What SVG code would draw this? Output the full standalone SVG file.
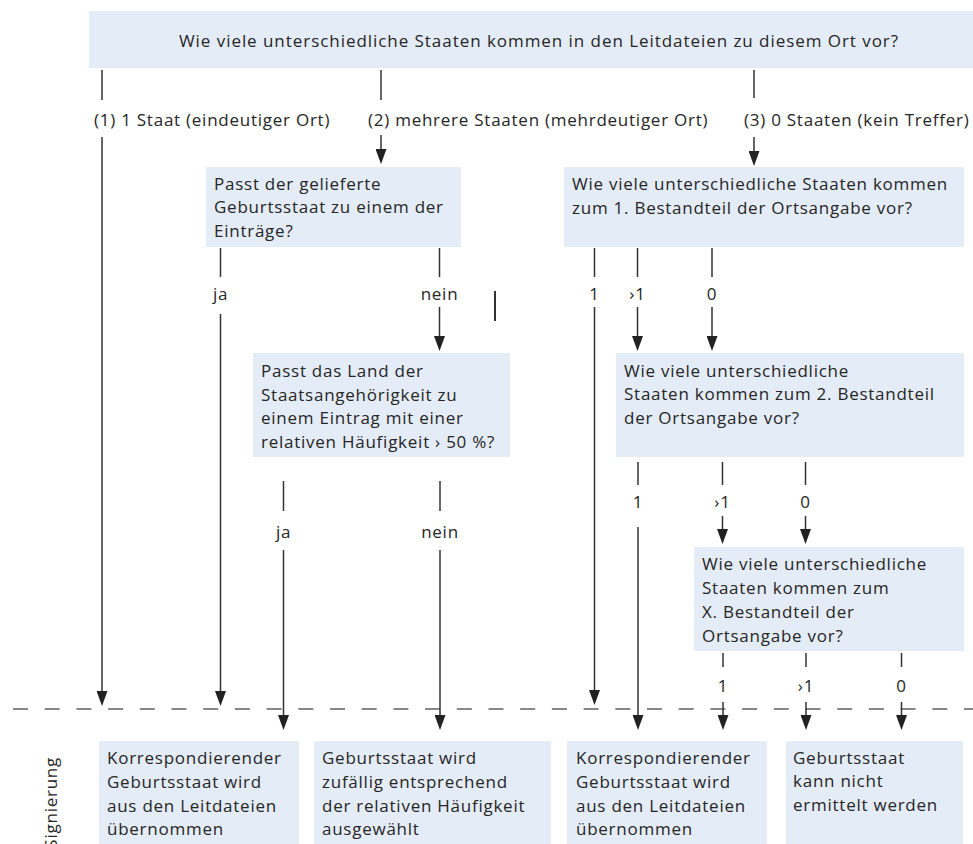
<svg xmlns="http://www.w3.org/2000/svg" width="973" height="844" viewBox="0 0 973 844">
<defs>
<style>
.box{fill:#e4ecf7;}
.t{font-family:"Open Sans","Noto Sans",sans-serif;font-size:17px;letter-spacing:0.75px;fill:#262626;}
.top{letter-spacing:0.95px;}
.m{text-anchor:middle;}
.c line{stroke:#333;stroke-width:1.5;fill:none;}
.c .a{marker-end:url(#arr);}
.dash{stroke:#888;stroke-width:2;stroke-dasharray:15 16.7;}
</style>
<marker id="arr" markerUnits="userSpaceOnUse" markerWidth="15" markerHeight="11" refX="8" refY="5.5" orient="auto">
<path d="M0,0 L15,5.5 L0,11 z" fill="#222"/>
</marker>
</defs>
<rect width="973" height="844" fill="#fff"/>

<line class="dash" x1="13" y1="709" x2="973" y2="709"/>

<g id="q0">
<rect class="box" x="89" y="11" width="884" height="57"/>
<text class="t top m" x="539" y="46.5">Wie viele unterschiedliche Staaten kommen in den Leitdateien zu diesem Ort vor?</text>
</g>

<g id="p1">
<rect class="box" x="206" y="167" width="255" height="80"/>
<text class="t" x="214" y="189.5">Passt der gelieferte</text>
<text class="t" x="214" y="213">Geburtsstaat zu einem der</text>
<text class="t" x="214" y="237">Einträge?</text>
</g>

<g id="b1">
<rect class="box" x="564" y="167" width="400" height="80"/>
<text class="t" x="572" y="190">Wie viele unterschiedliche Staaten kommen</text>
<text class="t" x="572" y="213.5">zum 1. Bestandteil der Ortsangabe vor?</text>
</g>

<g id="p2">
<rect class="box" x="253" y="353" width="257" height="104"/>
<text class="t" x="261" y="377">Passt das Land der</text>
<text class="t" x="261" y="400.5">Staatsangehörigkeit zu</text>
<text class="t" x="261" y="424">einem Eintrag mit einer</text>
<text class="t" x="261" y="447.5">relativen Häufigkeit › 50 %?</text>
</g>

<g id="b2">
<rect class="box" x="616" y="353" width="348" height="104"/>
<text class="t" x="624" y="376.5">Wie viele unterschiedliche</text>
<text class="t" x="624" y="400">Staaten kommen zum 2. Bestandteil</text>
<text class="t" x="624" y="423.5">der Ortsangabe vor?</text>
</g>

<g id="b3">
<rect class="box" x="694" y="547" width="270" height="104"/>
<text class="t" x="702" y="570">Wie viele unterschiedliche</text>
<text class="t" x="702" y="594">Staaten kommen zum</text>
<text class="t" x="702" y="618">X. Bestandteil der</text>
<text class="t" x="702" y="641.5">Ortsangabe vor?</text>
</g>

<g id="r1">
<rect class="box" x="99" y="741" width="200" height="103"/>
<text class="t" x="107" y="764">Korrespondierender</text>
<text class="t" x="107" y="788">Geburtsstaat wird</text>
<text class="t" x="107" y="811.5">aus den Leitdateien</text>
<text class="t" x="107" y="835">übernommen</text>
</g>

<g id="r2">
<rect class="box" x="314" y="741" width="237" height="103"/>
<text class="t" x="322" y="764">Geburtsstaat wird</text>
<text class="t" x="322" y="788">zufällig entsprechend</text>
<text class="t" x="322" y="811.5">der relativen Häufigkeit</text>
<text class="t" x="322" y="835">ausgewählt</text>
</g>

<g id="r3">
<rect class="box" x="567" y="741" width="200" height="103"/>
<text class="t" x="576" y="764">Korrespondierender</text>
<text class="t" x="576" y="788">Geburtsstaat wird</text>
<text class="t" x="576" y="811.5">aus den Leitdateien</text>
<text class="t" x="576" y="835">übernommen</text>
</g>

<g id="r4">
<rect class="box" x="786" y="741" width="177" height="103"/>
<text class="t" x="793" y="763.5">Geburtsstaat</text>
<text class="t" x="793" y="787">kann nicht</text>
<text class="t" x="793" y="811">ermittelt werden</text>
</g>

<g id="lane">
<text class="t" transform="translate(57,757) rotate(-90)" text-anchor="end">Signierung</text>
</g>

<g id="connectors" class="c">
<line x1="102" y1="70" x2="102" y2="100"/>
<line class="a" x1="102" y1="137" x2="102" y2="699"/>
<line x1="381" y1="70" x2="381" y2="100"/>
<line class="a" x1="381" y1="135" x2="381" y2="157"/>
<line x1="754" y1="70" x2="754" y2="98"/>
<line class="a" x1="754" y1="137" x2="754" y2="159"/>

<line x1="220.5" y1="248" x2="220.5" y2="277"/>
<line class="a" x1="220.5" y1="314" x2="220.5" y2="699"/>
<line x1="439.5" y1="248" x2="439.5" y2="277"/>
<line class="a" x1="439.5" y1="307" x2="439.5" y2="344"/>
<line x1="495" y1="291" x2="495" y2="321" style="stroke-width:2"/>

<line x1="283.5" y1="481" x2="283.5" y2="511"/>
<line class="a" x1="283.5" y1="550" x2="283.5" y2="723"/>
<line x1="440" y1="481" x2="440" y2="511"/>
<line class="a" x1="440" y1="550" x2="440" y2="723"/>

<line x1="594.5" y1="248" x2="594.5" y2="277"/>
<line class="a" x1="594.5" y1="307" x2="594.5" y2="698"/>
<line x1="637.5" y1="248" x2="637.5" y2="277"/>
<line class="a" x1="637.5" y1="307" x2="637.5" y2="344"/>
<line x1="712" y1="248" x2="712" y2="277"/>
<line class="a" x1="712" y1="307" x2="712" y2="344"/>

<line x1="638" y1="462" x2="638" y2="485"/>
<line class="a" x1="638" y1="527" x2="638" y2="723"/>
<line x1="722.5" y1="462" x2="722.5" y2="485"/>
<line class="a" x1="722.5" y1="516" x2="722.5" y2="537"/>
<line x1="805.5" y1="462" x2="805.5" y2="485"/>
<line class="a" x1="805.5" y1="516" x2="805.5" y2="537"/>

<line x1="723" y1="653" x2="723" y2="667"/>
<line class="a" x1="723" y1="702" x2="723" y2="723"/>
<line x1="806" y1="653" x2="806" y2="667"/>
<line class="a" x1="806" y1="702" x2="806" y2="723"/>
<line x1="901.5" y1="653" x2="901.5" y2="667"/>
<line class="a" x1="901.5" y1="702" x2="901.5" y2="723"/>
</g>

<g id="labels">
<text class="t" x="94" y="126">(1) 1 Staat (eindeutiger Ort)</text>
<text class="t" x="368" y="126">(2) mehrere Staaten (mehrdeutiger Ort)</text>
<text class="t" x="744" y="126">(3) 0 Staaten (kein Treffer)</text>
<text class="t m" x="220.5" y="300">ja</text>
<text class="t m" x="439.5" y="300">nein</text>
<text class="t m" x="283.5" y="538">ja</text>
<text class="t m" x="440" y="538">nein</text>
<text class="t m" x="594.5" y="300">1</text>
<text class="t m" x="637.5" y="300">›1</text>
<text class="t m" x="712" y="300">0</text>
<text class="t m" x="638" y="508">1</text>
<text class="t m" x="722.5" y="508">›1</text>
<text class="t m" x="805.5" y="508">0</text>
<text class="t m" x="723" y="692">1</text>
<text class="t m" x="806" y="692">›1</text>
<text class="t m" x="901.5" y="692">0</text>
</g>
</svg>
